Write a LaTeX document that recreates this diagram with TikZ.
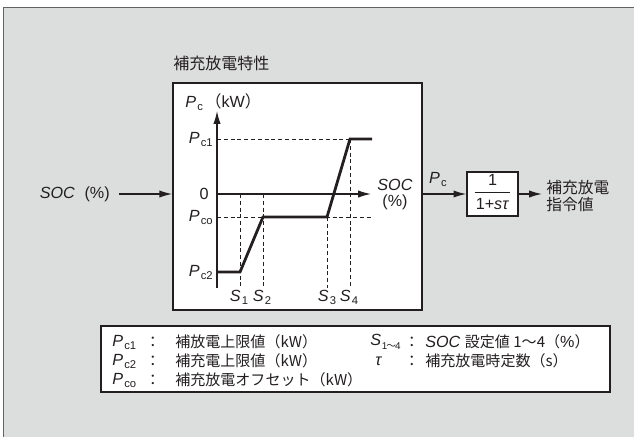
\documentclass[tikz,border=0pt]{standalone}
\usepackage{fontspec}
\setmainfont{Liberation Sans}
\newfontfamily\jp{Noto Sans CJK JP}
\usetikzlibrary{arrows.meta,positioning}

\definecolor{panelgray}{HTML}{DCDEDD}
\definecolor{ink}{HTML}{231F20}

\newcommand\Pc[1]{\textit{P}\kern.08em\raisebox{-.35ex}{\fontsize{8}{8}\selectfont c#1}}
\newcommand\Sn[1]{\textit{S}\kern.08em\raisebox{-.35ex}{\fontsize{8}{8}\selectfont #1}}

\begin{document}
\begin{tikzpicture}[x=2.5mm, y=-2.5mm, color=ink,
    lat/.style={inner sep=0, font=\fontsize{11.5}{11.4}\selectfont},
    jtxt/.style={inner sep=0, font=\jp\fontsize{10.7}{13}\selectfont},
    head/.style={inner sep=0, font=\jp\fontsize{11.4}{13}\selectfont},
    box/.style={draw, line width=0.4mm, fill=white, inner sep=0},
    arrow/.style={line width=0.3mm, -{Latex[length=3.2mm,width=1.8mm]}},
    guide/.style={dashed, dash pattern=on 1mm off 0.7mm, line width=0.2mm},
    curve/.style={line width=0.7mm, line join=miter}
]
    \useasboundingbox (0,0) rectangle (63.4,43.6);
    \clip (0,0) rectangle (63.4,43.6);
    \filldraw[fill=panelgray, draw=ink!70, line width=0.25mm] (0.4,0.7) rectangle (64.5,45);

    % characteristic panel
    \node[head, anchor=west] (title) at (17.3,6.3) {補充放電特性};
    \node[box, minimum width=62.25mm, minimum height=56.75mm] (chart) at (29.75,19.65) {};

    \coordinate (o) at (21.7,19.4);
    \coordinate (ytop) at (21.7,11.1);
    \coordinate (ybot) at (21.7,28.8);
    \coordinate (xtip) at (37.1,19.4);
    \coordinate (c2l) at (21.7,27.2);
    \coordinate (s1) at (24.0,27.2);
    \coordinate (s2) at (26.3,21.7);
    \coordinate (s3) at (32.7,21.7);
    \coordinate (s4) at (35.0,13.9);
    \coordinate (c1r) at (37.2,13.9);

    \draw[guide] (o |- s4) -- (s4);
    \draw[guide] (o |- s2) -- (s2 -| c1r);
    \draw[guide] (s1 |- o) -- (s1 |- ybot);
    \draw[guide] (s2 |- o) -- (s2 |- ybot);
    \draw[guide] (s3) -- (s3 |- ybot);
    \draw[guide] (s4) -- (s4 |- ybot);

    \draw[arrow] (ybot) -- (ytop);
    \draw[arrow] (o) -- (xtip);
    \draw[curve] (c2l) -- (s1) -- (s2) -- (s3) -- (s4) -- (c1r);

    \node[lat, anchor=west] (pcax) at (18.5,10.2) {\Pc{}\hspace{0.15em}{\jp （}kW{\jp ）}};
    \node[lat, anchor=east] (lc1) at (21.3,13.9) {\Pc{1}};
    \node[lat, anchor=east] (lo) at (20.9,19.4) {0};
    \node[lat, anchor=east] (lco) at (21.3,21.7) {\Pc{o}};
    \node[lat, anchor=east] (lc2) at (21.3,27.2) {\Pc{2}};
    \node[lat] (ls1) at (23.9,29.7) {\Sn{1}};
    \node[lat] (ls2) at (26.2,29.7) {\Sn{2}};
    \node[lat] (ls3) at (32.7,29.7) {\Sn{3}};
    \node[lat] (ls4) at (34.9,29.7) {\Sn{4}};
    \node[lat, align=center] (socax) at (39.5,19.5) {\textit{SOC}\\(\%)};

    % signal path
    \node[lat, anchor=east] (socin) at (11.0,19.4) {\textit{SOC}\hspace{0.6em}(\%)};
    \draw[arrow, shorten <=2.25mm] (socin.east) -- (socin.east -| chart.west);

    \node[box, line width=0.35mm, minimum width=12.75mm, minimum height=11mm] (lag) at (49.25,19.4)
        {\fontsize{11.5}{11.5}\selectfont\begin{tabular}{@{\hspace{0.3mm}}c@{\hspace{0.3mm}}}1\\[0.4mm]\hline\rule{0pt}{4.2mm}1+\textit{sτ}\end{tabular}};
    \node[lat] (lpc) at (43.8,17.9) {\Pc{}};
    \draw[arrow] (chart.east |- o) -- (lag.west);

    \node[head, font=\jp\fontsize{11.2}{12.8}\selectfont, anchor=west, align=left, inner sep=1mm] (cmd) at (54.2,19.6) {補充放電\\指令値};
    \draw[arrow] (lag.east) -- (lag.east -| cmd.west);

    % legend
    \node[box, line width=0.35mm, minimum width=127.25mm, minimum height=16.5mm] (legend) at (35.55,35.9) {};

    \node[lat, anchor=west] (k1) at (11.2,34.2) {\Pc{1}};
    \node[jtxt] (q1) at (15.3,34.2) {：};
    \node[jtxt, anchor=west] (d1) at (17.5,34.2) {補放電上限値（kW）};
    \node[lat, anchor=west] (k2) at (11.2,36.1) {\Pc{2}};
    \node[jtxt] (q2) at (15.3,36.1) {：};
    \node[jtxt, anchor=west] (d2) at (17.5,36.1) {補充電上限値（kW）};
    \node[lat, anchor=west] (k3) at (11.2,38.0) {\Pc{o}};
    \node[jtxt] (q3) at (15.3,38.0) {：};
    \node[jtxt, anchor=west] (d3) at (17.5,38.0) {補充放電オフセット（kW）};

    \node[lat, anchor=west] (k4) at (37.0,34.2) {\textit{S}\kern.05em\raisebox{-.4ex}{\fontsize{7}{7}\selectfont 1\kern-.1em{\jp ～}\kern-.1em 4}};
    \node[jtxt] (q4) at (41.2,34.2) {：};
    \node[lat, anchor=west] (d4) at (42.5,34.2) {\textit{SOC} {\jp\fontsize{10.7}{13}\selectfont 設定値 1～4（}\%{\jp\fontsize{10.7}{13}\selectfont ）}};
    \node[lat, anchor=west] (k5) at (37.5,36.1) {\textit{τ}};
    \node[jtxt] (q5) at (41.2,36.1) {：};
    \node[jtxt, anchor=west] (d5) at (42.5,36.1) {補充放電時定数（s）};
\end{tikzpicture}
\end{document}
